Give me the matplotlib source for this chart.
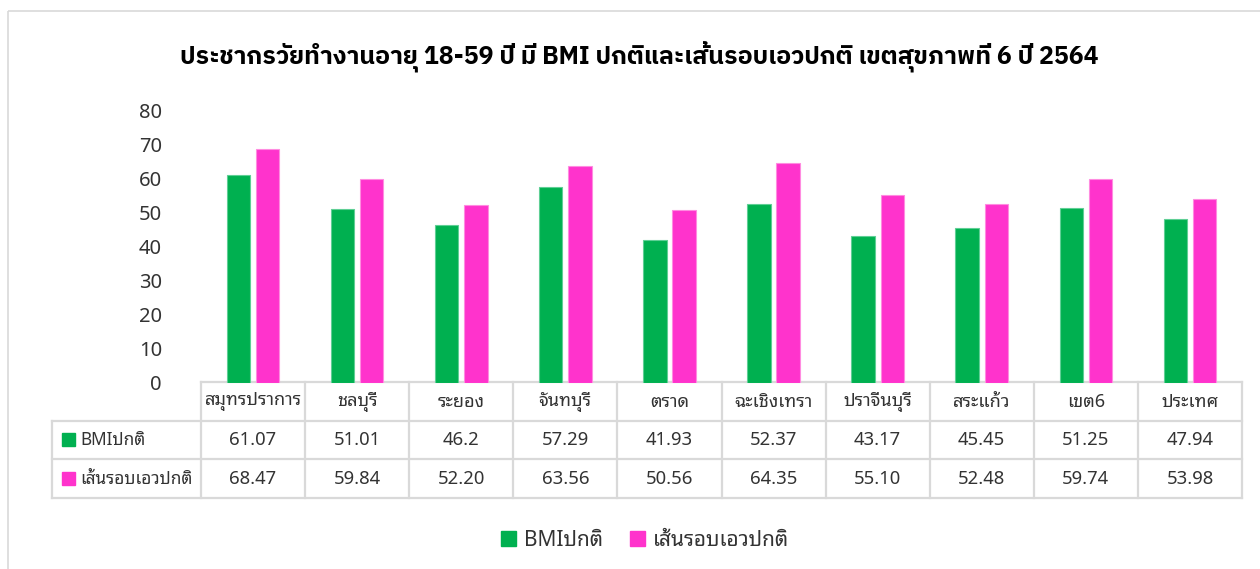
import matplotlib
matplotlib.use("Agg")
import matplotlib.pyplot as plt
from matplotlib.patches import Rectangle, Patch
import numpy as np

# data
provinces = ['สมุทรปราการ', 'ชลบุรี', 'ระยอง', 'จันทบุรี', 'ตราด',
             'ฉะเชิงเทรา', 'ปราจีนบุรี', 'สระแก้ว', 'เขต6', 'ประเทศ']
bmi_normal = [61.07, 51.01, 46.2, 57.29, 41.93, 52.37, 43.17, 45.45, 51.25, 47.94]
waist_normal = [68.47, 59.84, 52.20, 63.56, 50.56, 64.35, 55.10, 52.48, 59.74, 53.98]
series_names = ['BMIปกติ', 'เส้นรอบเอวปกติ']
yticks = [0, 10, 20, 30, 40, 50, 60, 70, 80]
title = 'ประชากรวัยทำงานอายุ 18-59 ปี มี BMI ปกติและเส้นรอบเอวปกติ เขตสุขภาพที่ 6 ปี 2564'

GREEN = '#00B050'
PINK = '#FF33CC'
GRID = '#D9D9D9'
TXT = '#333333'
FONT = ['Noto Sans Thai Looped', 'Noto Sans', 'DejaVu Sans']
plt.rcParams['font.family'] = FONT

W, H = 1260, 569
fig = plt.figure(figsize=(W / 100, H / 100), dpi=100)

# overlay in pixel coords for frame + table
ov = fig.add_axes([0, 0, 1, 1], zorder=0)
ov.set_xlim(0, W)
ov.set_ylim(H, 0)
ov.axis('off')
ov.add_patch(Rectangle((8, 11), W, H, fill=False, edgecolor=GRID, lw=1.2))

# main bar axes: x from 201 to 1242 px, y 0 at 383, 80 at 110
left, right, y0, y80 = 201, 1242, 383, 110
ax = fig.add_axes([left / W, (H - y0) / H, (right - left) / W, (y0 - y80) / H], zorder=1)
x = np.arange(len(provinces))
bw = 0.225
gap = 0.055
ax.bar(x - (bw + gap) / 2, bmi_normal, width=bw, color=GREEN, edgecolor='#5FCF95', lw=0.8)
ax.bar(x + (bw + gap) / 2, waist_normal, width=bw, color=PINK, edgecolor='#FF8CE0', lw=0.8)
ax.set_xlim(-0.5, len(provinces) - 0.5)
ax.set_ylim(0, 80)
ax.set_yticks(yticks)
ax.tick_params(axis='y', length=0, pad=28, labelsize=14.5, labelcolor=TXT)
ax.set_xticks([])
for s in ax.spines.values():
    s.set_visible(False)
ax.patch.set_alpha(0)

fig.text(639 / W, 1 - 57 / H, title, ha='center', va='center', fontsize=17.9,
         fontweight='bold', color='black', family=['IBM Plex Sans Thai', 'Noto Sans', 'DejaVu Sans'])

# data table
col_w = (right - left) / len(provinces)
rows_y = [382, 421, 459, 498]
lab_left = 52
lw = 1.6
ov.plot([left, right], [rows_y[0], rows_y[0]], color=GRID, lw=lw)
for ry in rows_y[1:]:
    ov.plot([lab_left, right], [ry, ry], color=GRID, lw=lw)
ov.plot([lab_left, lab_left], [rows_y[1], rows_y[3]], color=GRID, lw=lw)
for i in range(len(provinces) + 1):
    cx = left + i * col_w
    ov.plot([cx, cx], [rows_y[0], rows_y[3]], color=GRID, lw=lw)

row_texts = [[f'{v:g}' for v in bmi_normal], [f'{v:.2f}' for v in waist_normal]]
for i, name in enumerate(provinces):
    cx = left + (i + 0.5) * col_w
    ov.text(cx, (rows_y[0] + rows_y[1]) / 2, name, ha='center', va='center', fontsize=13, color=TXT)
    for r in range(2):
        ov.text(cx, (rows_y[r + 1] + rows_y[r + 2]) / 2, row_texts[r][i], ha='center', va='center',
                fontsize=13.3, color=TXT)
for r, (nm, c) in enumerate(zip(series_names, [GREEN, PINK])):
    cy = (rows_y[r + 1] + rows_y[r + 2]) / 2
    ov.add_patch(Rectangle((62, cy - 7), 13, 13, color=c))
    ov.text(80, cy, nm, ha='left', va='center', fontsize=12.4, color=TXT)

# legend
handles = [Patch(color=GREEN, label=series_names[0]), Patch(color=PINK, label=series_names[1])]
fig.legend(handles=handles, loc='center', bbox_to_anchor=(645 / W, 1 - 540 / H), ncol=2,
           frameon=False, fontsize=15, handlelength=0.7, handleheight=0.7, handletextpad=0.4,
           columnspacing=1.3, labelcolor=TXT)

fig.savefig('out.png', dpi=100)
